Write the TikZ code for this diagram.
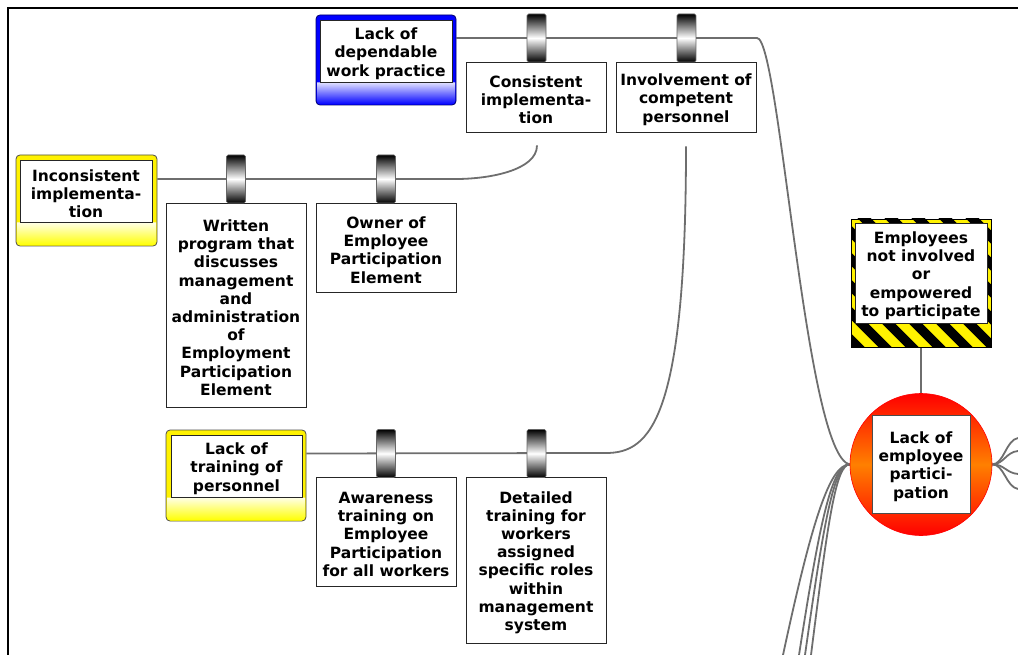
\documentclass[tikz,border=0pt]{standalone}
\usepackage{fontspec}
\setmainfont{DejaVu Sans}
\usetikzlibrary{calc,backgrounds}
\definecolor{connc}{HTML}{6E6E6E}
\newcommand\firstl{\rule{0pt}{17pt}}
\begin{document}
\begin{tikzpicture}[x=1pt,y=-1pt,
  lbl/.style={font=\fontsize{15.5}{18.2}\selectfont\bfseries, align=center, text=black},
  box/.style={lbl, draw=black!85, line width=0.8pt, fill=white, inner sep=0pt},
  conn/.style={draw=connc, line width=1.8pt},
  barrier/.style={draw=black!60, line width=0.6pt, rounded corners=1.5pt, top color=black, bottom color=black, middle color=white, minimum width=19pt, minimum height=48pt, inner sep=0pt},
  outerbox/.style={rounded corners=4pt, line width=0.8pt, minimum width=#1, inner sep=0pt},
]
\useasboundingbox (0,0) rectangle (1018,655);
\draw[line width=2pt] (8,655) -- (8,8) -- (1018,8);

% ---- blue box
\node[outerbox=140pt, minimum height=90pt, fill=blue, draw=blue!40!black] (dep) at (386,60) {};
\shade[top color=blue!12, bottom color=blue] (317,82.5) -- (455,82.5) [rounded corners=3.5pt] -- (455,104.5) -- (317,104.5) [sharp corners] -- cycle;
\node[box, minimum width=132pt, minimum height=62pt] (depin) at (386,51) {\firstl Lack of\\dependable\\work practice};

% ---- yellow: inconsistent
\node[outerbox=141pt, minimum height=91pt, fill=yellow, draw=black!70] (inc) at (86.5,200.5) {};
\shade[top color=yellow!10, bottom color=yellow] (17,222.5) -- (156,222.5) [rounded corners=3.5pt] -- (156,245.5) -- (17,245.5) [sharp corners] -- cycle;
\node[box, minimum width=132pt, minimum height=62pt] (incin) at (86,191) {\firstl Inconsistent\\implementa-\\tion};

% ---- yellow: lack of training
\node[outerbox=140pt, minimum height=91pt, fill=yellow, draw=black!70] (lot) at (236,475.5) {};
\shade[top color=yellow!10, bottom color=yellow] (167,497.5) -- (305,497.5) [rounded corners=3.5pt] -- (305,520.5) -- (167,520.5) [sharp corners] -- cycle;
\node[box, minimum width=131pt, minimum height=62pt] (lotin) at (236.5,466) {\firstl Lack of\\training of\\personnel};

% ---- plain boxes
\node[box, minimum width=140pt, minimum height=70pt] (ci) at (536,97) {\firstl Consistent\\implementa-\\tion};
\node[box, minimum width=140pt, minimum height=70pt] (ic) at (686,97) {\firstl Involvement of\\competent\\personnel};
\node[box, minimum width=140pt, minimum height=204pt] (wp) at (236,305) {\firstl Written\\program that\\discusses\\management\\and\\administration\\of\\Employment\\Participation\\Element};
\node[box, minimum width=140pt, minimum height=89pt] (ow) at (386,247.5) {\firstl Owner of\\Employee\\Participation\\Element};
\node[box, minimum width=140pt, minimum height=109pt] (aw) at (386,531.5) {\firstl Awareness\\training on\\Employee\\Participation\\for all workers};
\node[box, minimum width=140pt, minimum height=166pt] (dt) at (536,560) {\firstl Detailed\\training for\\workers\\assigned\\specific roles\\within\\management\\system};

% ---- hazard box
\begin{scope}
  \clip (851,219) rectangle (991,347);
  \fill[yellow] (851,219) rectangle (991,347);
  \foreach \k in {-6,...,6} \draw[line width=9.5pt] (851+27*\k,205) -- ++(160,160);
\end{scope}
\node[draw=black, line width=0.8pt, minimum width=140pt, minimum height=128pt, inner sep=0pt] (haz) at (921,283) {};
\node[box, minimum width=132pt, minimum height=100pt] (hazin) at (921,273) {\firstl Employees\\not involved\\or\\empowered\\to participate};

% ---- top event circle
\node[circle, draw=red, line width=0.6pt, minimum size=142pt, inner sep=0pt, top color=red, bottom color=red, middle color=orange] (lep) at (921,464.5) {};
\node[box, draw=black!70, line width=1pt, minimum width=98pt, minimum height=98pt] (lepin) at (921,464) {\firstl Lack of\\employee\\partici-\\pation};

% ---- barriers
\node[barrier] (b1) at (536.5,38) {};
\node[barrier] (b2) at (686.5,38) {};
\node[barrier] (b3) at (236,179) {};
\node[barrier] (b4) at (386,179) {};
\node[barrier] (b5) at (386,453.5) {};
\node[barrier] (b6) at (536.5,453.5) {};

% ---- free ends
\coordinate (t1) at (757,38);
\coordinate (t2) at (456,179);
\coordinate (t3) at (606,453);
\coordinate (e1) at (783,655);
\coordinate (e2) at (799,655);
\coordinate (e3) at (805,655);
\coordinate (e4) at (811,655);
\coordinate (r1) at (1018,438);
\coordinate (r2) at (1018,451);
\coordinate (r3) at (1018,474);
\coordinate (r4) at (1018,489);

\begin{pgfonlayer}{background}
\draw[conn] (dep.east |- b1) -- (t1) .. controls (780,38) and (805,455) .. (lep.west);
\draw[conn] ($(ci.south)+(1,13)$) .. controls (537,170) and (490,179) .. (t2) -- (inc.east |- b3);
\draw[conn] ($(ic.south)+(0,14)$) .. controls (686,420) and (650,453) .. (t3) -- (lot.east |- b5);
\draw[conn] (haz.south) -- (lep.north);
\draw[conn] (lep.west) .. controls (830,464) and (812,520) .. (e1);
\draw[conn] (lep.west) .. controls (832,464) and (820,520) .. (e2);
\draw[conn] (lep.west) .. controls (834,464) and (824,520) .. (e3);
\draw[conn] (lep.west) .. controls (836,464) and (828,520) .. (e4);
\draw[conn] (lep.east) .. controls (1004,464) and (1006,440) .. (r1);
\draw[conn] (lep.east) .. controls (1004,464) and (1006,452) .. (r2);
\draw[conn] (lep.east) .. controls (1004,464) and (1006,473) .. (r3);
\draw[conn] (lep.east) .. controls (1004,464) and (1006,487) .. (r4);
\end{pgfonlayer}
\end{tikzpicture}
\end{document}
